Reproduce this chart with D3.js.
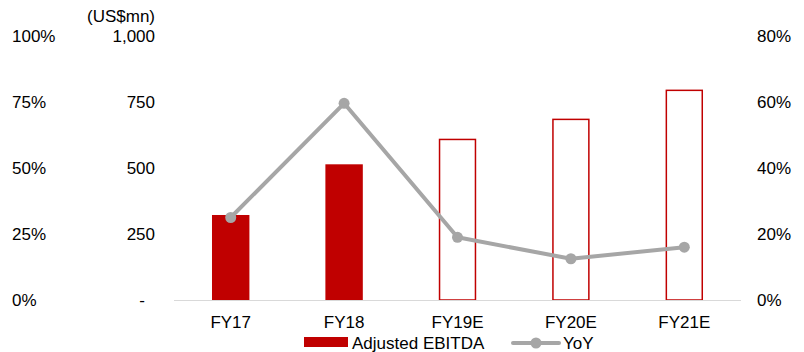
<!DOCTYPE html>
<html>
<head>
<meta charset="utf-8">
<script src="https://cdn.jsdelivr.net/npm/d3@7"></script>
<style>
  html, body { margin: 0; padding: 0; background: #fff; }
  svg { display: block; font-family: "Liberation Sans", Arial, Helvetica, sans-serif; }
</style>
</head>
<body>
<svg id="chart" width="804" height="352"></svg>
<script>
// Adjusted EBITDA (US$mn) and year-on-year growth
const categories = ["FY17", "FY18", "FY19E", "FY20E", "FY21E"];
const ebitda = [322, 514, 611, 687, 797];
const isForecast = [false, false, true, true, true];
const yoy = [0.25, 0.596, 0.19, 0.125, 0.16];

const leftPctTicks = [0, 0.25, 0.5, 0.75, 1.0];
const valueTicks = [0, 250, 500, 750, 1000];
const rightPctTicks = [0, 0.2, 0.4, 0.6, 0.8];

const red = "#c00000";
const grey = "#a6a6a6";
const fs = 17;

const svg = d3.select("#chart");
const plot = { left: 174, right: 741, top: 36, bottom: 300 };

const x = d3.scaleBand().domain(categories).range([plot.left, plot.right]).paddingInner(0.67).paddingOuter(0.335);
const yVal = d3.scaleLinear().domain([0, 1000]).range([plot.bottom, plot.top]);
const yPctLeft = d3.scaleLinear().domain([0, 1]).range([plot.bottom, plot.top]);
const yPctRight = d3.scaleLinear().domain([0, 0.8]).range([plot.bottom, plot.top]);

const fmtPct = d3.format(".0%");
const fmtVal = v => v === 0 ? "-" : d3.format(",")(v);

// Left-most percentage axis
svg.append("g").selectAll("text").data(leftPctTicks).join("text")
  .attr("x", 12).attr("y", d => yPctLeft(d)).attr("dy", "0.35em")
  .attr("font-size", fs).attr("fill", "#000")
  .text(d => fmtPct(d));

// Value axis
svg.append("g").selectAll("text").data(valueTicks).join("text")
  .attr("x", d => d === 0 ? 145 : 155).attr("y", d => yVal(d)).attr("dy", "0.35em")
  .attr("text-anchor", "end").attr("font-size", fs).attr("fill", "#000")
  .text(d => fmtVal(d));

svg.append("text").attr("x", 155).attr("y", 16).attr("dy", "0.35em")
  .attr("text-anchor", "end").attr("font-size", fs).text("(US$mn)");

// Right percentage axis
svg.append("g").selectAll("text").data(rightPctTicks).join("text")
  .attr("x", 757).attr("y", d => yPctRight(d)).attr("dy", "0.35em")
  .attr("font-size", fs).attr("fill", "#000")
  .text(d => fmtPct(d));

// Bars: actuals solid, forecasts outlined
const bars = categories.map((c, i) => ({ c, v: ebitda[i], f: isForecast[i] }));
svg.append("g").selectAll("rect").data(bars).join("rect")
  .attr("x", d => d.f ? x(d.c) + 0.75 : x(d.c))
  .attr("y", d => d.f ? yVal(d.v) + 0.75 : yVal(d.v))
  .attr("width", d => d.f ? x.bandwidth() - 1.5 : x.bandwidth())
  .attr("height", d => d.f ? yVal(0) - yVal(d.v) - 0.75 : yVal(0) - yVal(d.v))
  .attr("fill", d => d.f ? "#fff" : red)
  .attr("stroke", d => d.f ? red : "none")
  .attr("stroke-width", 1.5);

// Baseline
svg.append("line")
  .attr("x1", plot.left).attr("x2", plot.right)
  .attr("y1", plot.bottom + 0.5).attr("y2", plot.bottom + 0.5)
  .attr("stroke", "#d9d9d9").attr("stroke-width", 1);

// Category labels
svg.append("g").selectAll("text").data(categories).join("text")
  .attr("x", d => x(d) + x.bandwidth() / 2).attr("y", 322).attr("dy", "0.35em")
  .attr("text-anchor", "middle").attr("font-size", fs).text(d => d);

// YoY line
const pts = categories.map((c, i) => [x(c) + x.bandwidth() / 2, yPctRight(yoy[i])]);
svg.append("path").attr("d", d3.line()(pts))
  .attr("fill", "none").attr("stroke", grey).attr("stroke-width", 4).attr("stroke-linejoin", "round");
svg.append("g").selectAll("circle").data(pts).join("circle")
  .attr("cx", d => d[0]).attr("cy", d => d[1]).attr("r", 5.5).attr("fill", grey);

// Legend
const lg = svg.append("g");
lg.append("rect").attr("x", 304).attr("y", 337).attr("width", 44).attr("height", 10).attr("fill", red);
lg.append("text").attr("x", 352).attr("y", 343).attr("dy", "0.35em").attr("font-size", fs).text("Adjusted EBITDA");
lg.append("line").attr("x1", 513).attr("x2", 559).attr("y1", 343).attr("y2", 343)
  .attr("stroke", grey).attr("stroke-width", 4).attr("stroke-linecap", "round");
lg.append("circle").attr("cx", 536).attr("cy", 343).attr("r", 5.5).attr("fill", grey);
lg.append("text").attr("x", 563).attr("y", 343).attr("dy", "0.35em").attr("font-size", fs).text("YoY");
</script>
</body>
</html>
